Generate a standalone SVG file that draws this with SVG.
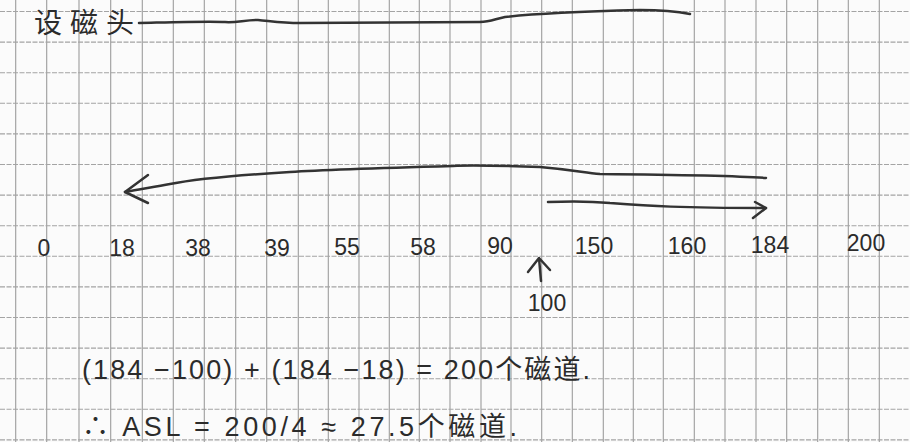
<svg xmlns="http://www.w3.org/2000/svg" width="910" height="442" viewBox="0 0 910 442">
<style>
.v{stroke:#9c9c9c;stroke-width:1.1}
.h{stroke:#a4a4a4;stroke-width:1.1;stroke-dasharray:5 1.5}
.ink{fill:none;stroke:#333333;stroke-width:2.5;stroke-linecap:round;stroke-linejoin:round}
.t{font-family:"Liberation Sans","Noto Sans CJK SC",sans-serif;fill:#2b2b2b}
.ax{font-size:23px;text-anchor:middle}
</style>
<rect width="910" height="442" fill="#fbfbfb"/>
<g id="grid">
<g class="v">
<line x1="15.7" y1="0" x2="15.7" y2="442"/><line x1="46.7" y1="0" x2="46.7" y2="442"/><line x1="79" y1="0" x2="79" y2="442"/><line x1="110.7" y1="0" x2="110.7" y2="442"/><line x1="142.3" y1="0" x2="142.3" y2="442"/><line x1="173.3" y1="0" x2="173.3" y2="442"/><line x1="204.3" y1="0" x2="204.3" y2="442"/><line x1="235.7" y1="0" x2="235.7" y2="442"/><line x1="266.7" y1="0" x2="266.7" y2="442"/><line x1="298.3" y1="0" x2="298.3" y2="442"/><line x1="328.3" y1="0" x2="328.3" y2="442"/><line x1="359" y1="0" x2="359" y2="442"/><line x1="389.3" y1="0" x2="389.3" y2="442"/><line x1="419.3" y1="0" x2="419.3" y2="442"/><line x1="450" y1="0" x2="450" y2="442"/><line x1="481" y1="0" x2="481" y2="442"/><line x1="511" y1="0" x2="511" y2="442"/><line x1="541.7" y1="0" x2="541.7" y2="442"/><line x1="572.3" y1="0" x2="572.3" y2="442"/><line x1="603.3" y1="0" x2="603.3" y2="442"/><line x1="633.3" y1="0" x2="633.3" y2="442"/><line x1="663.3" y1="0" x2="663.3" y2="442"/><line x1="694.3" y1="0" x2="694.3" y2="442"/><line x1="725" y1="0" x2="725" y2="442"/><line x1="756" y1="0" x2="756" y2="442"/><line x1="786.7" y1="0" x2="786.7" y2="442"/><line x1="817.7" y1="0" x2="817.7" y2="442"/><line x1="848.3" y1="0" x2="848.3" y2="442"/><line x1="879.3" y1="0" x2="879.3" y2="442"/>
</g>
<g class="h">
<line x1="0" y1="11.5" x2="910" y2="11.5"/><line x1="0" y1="42.1" x2="910" y2="42.1"/><line x1="0" y1="72.7" x2="910" y2="72.7"/><line x1="0" y1="103.3" x2="910" y2="103.3"/><line x1="0" y1="133.9" x2="910" y2="133.9"/><line x1="0" y1="164.5" x2="910" y2="164.5"/><line x1="0" y1="195.1" x2="910" y2="195.1"/><line x1="0" y1="225.7" x2="910" y2="225.7"/><line x1="0" y1="256.3" x2="910" y2="256.3"/><line x1="0" y1="286.9" x2="910" y2="286.9"/><line x1="0" y1="317.5" x2="910" y2="317.5"/><line x1="0" y1="348.1" x2="910" y2="348.1"/><line x1="0" y1="378.7" x2="910" y2="378.7"/><line x1="0" y1="409.3" x2="910" y2="409.3"/><line x1="0" y1="439.9" x2="910" y2="439.9"/>
</g>
</g>
<g id="head-label">
<text class="t" x="34" y="33" font-size="28" textLength="100" lengthAdjust="spacing">设磁头</text>
</g>
<g id="connectors">
<path class="ink" d="M139,23 C180,22 210,21 225,22 C235,23 245,20 258,20 C270,21 282,23 300,23 L480,22 C490,22 495,19 505,17 C540,13 600,11 640,10 C665,10 680,12 690,14"/>
<path class="ink" d="M766,178 C740,176 700,175 600,174 C585,173 575,170 540,167 C510,166 470,165 453,166 C380,168 320,170 290,172 C240,175 200,178 170,184 C155,187 140,189 125,192"/>
<path class="ink" d="M148,175 L125,192 L148,203"/>
<path class="ink" d="M548,202 C570,201 590,201 610,203 C650,206 680,208 766,208"/>
<path class="ink" d="M755,202 L766,208 L753,218"/>
<path class="ink" d="M541,281 L539,258 M528,272 L539,258 L550,270"/>
</g>
<g id="axis-labels" class="t ax">
<text x="44" y="256">0</text>
<text x="122" y="256">18</text>
<text x="198" y="256">38</text>
<text x="277" y="256">39</text>
<text x="347" y="255">55</text>
<text x="423" y="255">58</text>
<text x="500" y="254">90</text>
<text x="594" y="254">150</text>
<text x="687" y="254">160</text>
<text x="770" y="253">184</text>
<text x="866" y="251">200</text>
<text x="547" y="311">100</text>
</g>
<g id="formulas" class="t">
<text x="82" y="379" font-size="27" textLength="508" lengthAdjust="spacing">(184 −100) + (184 −18) = 200个磁道.</text>
<text x="82" y="436" font-size="27" textLength="435" lengthAdjust="spacing">∴ ASL = 200/4 ≈ 27.5个磁道.</text>
</g>
</svg>
